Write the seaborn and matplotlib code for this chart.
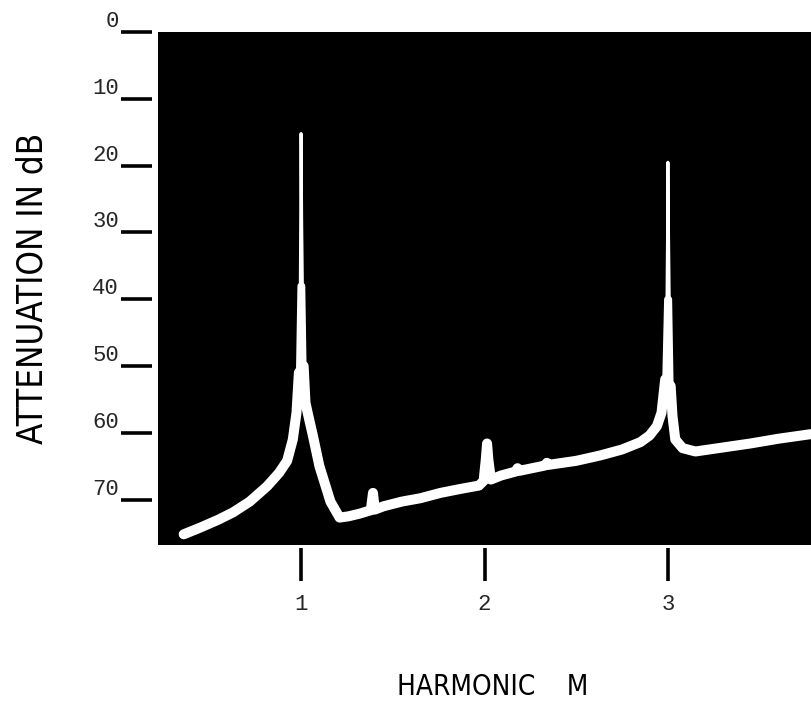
import numpy as np
import pandas as pd
import matplotlib
matplotlib.use("Agg")
import matplotlib.pyplot as plt
from matplotlib import font_manager as fm
import seaborn as sns

# ---- data ----
harmonic = [0.36, 0.45, 0.55, 0.63, 0.72, 0.815, 0.88, 0.924, 0.955, 0.975, 0.988,
            0.996, 0.998, 1.000, 1.003, 1.007, 1.014, 1.024, 1.04, 1.065, 1.10, 1.16,
            1.21, 1.26, 1.32, 1.380, 1.392, 1.402, 1.45, 1.55, 1.65, 1.76, 1.87,
            1.97, 1.995, 2.007, 2.014, 2.021, 2.035, 2.09, 2.17, 2.18, 2.19, 2.33,
            2.34, 2.35, 2.5, 2.63, 2.75, 2.85, 2.90, 2.94, 2.965, 2.985, 2.995,
            2.998, 3.000, 3.003, 3.007, 3.015, 3.025, 3.04, 3.08, 3.15, 3.30, 3.45,
            3.60, 3.78]
attenuation_db = [75.2, 74.2, 73.0, 71.9, 70.3, 68.0, 66.0, 64.2, 61.0, 57.0, 51.0,
                  38.0, 28.0, 15.2, 28.0, 38.0, 50.0, 55.5, 57.5, 60.5, 65.0, 70.3,
                  72.7, 72.5, 72.1, 71.6, 69.0, 71.5, 71.0, 70.3, 69.8, 69.0, 68.4,
                  67.9, 67.2, 64.0, 61.6, 64.0, 67.0, 66.4, 65.8, 65.3, 65.7, 64.9,
                  64.5, 64.8, 64.2, 63.4, 62.5, 61.4, 60.4, 59.0, 57.0, 52.0, 40.0,
                  30.0, 19.5, 30.0, 40.0, 53.0, 57.5, 61.0, 62.3, 62.8, 62.2, 61.6,
                  60.9, 60.2]

y_ticks = [0, 10, 20, 30, 40, 50, 60, 70]
y_tick_labels = ["0", "10", "20", "30", "40", "50", "60", "70"]
x_ticks = [1, 2, 3]
x_tick_labels = ["1", "2", "3"]

df = pd.DataFrame({"harmonic": harmonic, "db": attenuation_db})

# ---- fonts ----
names = {f.name for f in fm.fontManager.ttflist}
if "Liberation Sans Narrow" in names:
    label_font = dict(family=["Liberation Sans Narrow", "DejaVu Sans"])
    ylab_size, xlab_size = 27, 22
else:
    label_font = dict(family=["DejaVu Sans"], stretch="condensed")
    ylab_size, xlab_size = 25, 20
tick_font = ["Liberation Mono", "DejaVu Sans Mono"]

sns.set_theme(style="white")
plt.rcParams["font.family"] = ["DejaVu Sans"]

fig = plt.figure(figsize=(8.11, 7.14), dpi=100)
ax = fig.add_axes([158 / 811, 1 - 545 / 714, 1 - 158 / 811, (545 - 32) / 714])
ax.set_facecolor("black")

# layered line: thin everywhere, thicker on the lower parts so peaks taper
thin = df.copy()
mid = df.copy()
mid.loc[mid["db"] < 34, "db"] = np.nan
thick = df.copy()
thick.loc[thick["db"] < 50, "db"] = np.nan

sns.lineplot(data=thin, x="harmonic", y="db", ax=ax, color="white", lw=2.2,
             sort=False, solid_capstyle="round", solid_joinstyle="round")
sns.lineplot(data=mid, x="harmonic", y="db", ax=ax, color="white", lw=4.2,
             sort=False, solid_capstyle="round", solid_joinstyle="round")
sns.lineplot(data=thick, x="harmonic", y="db", ax=ax, color="white", lw=7.2,
             sort=False, solid_capstyle="round", solid_joinstyle="round")

ax.set_xlim(0.22, 3.78)
ax.set_ylim(76.8, 0)

for s in ax.spines.values():
    s.set_visible(False)
ax.spines["left"].set_position(("outward", 4))
ax.spines["bottom"].set_position(("outward", 2))

ax.set_yticks(y_ticks)
ax.set_yticklabels(y_tick_labels, fontfamily=tick_font, fontsize=16)
ax.set_xticks(x_ticks)
ax.set_xticklabels(x_tick_labels, fontfamily=tick_font, fontsize=16)
ax.tick_params(axis="y", left=True, length=22, width=2.6, color="black", pad=2,
               direction="out")
ax.tick_params(axis="x", bottom=True, length=24, width=2.6, color="black", pad=9,
               direction="out")
for lab in ax.get_yticklabels():
    lab.set_verticalalignment("bottom")

ax.set_ylabel("ATTENUATION IN dB", fontsize=ylab_size, color="black", **label_font)
ax.yaxis.set_label_coords(-0.166, 0.50)
ax.set_xlabel("HARMONIC    M", fontsize=xlab_size, color="black", **label_font)
ax.xaxis.set_label_coords(0.513, -0.25)

fig.savefig("out.png", dpi=100, facecolor="white")
